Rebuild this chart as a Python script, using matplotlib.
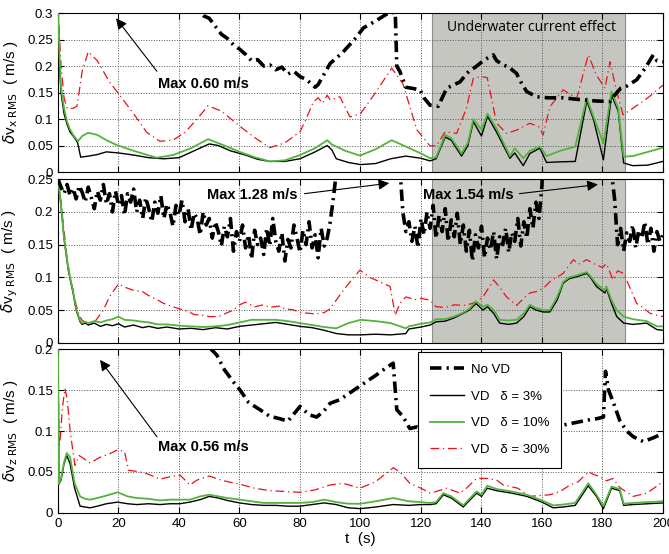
import numpy as np
import matplotlib.pyplot as plt

plt.rcParams['font.family'] = ['Liberation Sans', 'DejaVu Sans']

# ---------------- data ----------------
# panel x (top)
tx_3 = [0, 0.5, 1, 2, 3, 4, 5, 6, 6.5, 7.5, 10, 13, 16, 20, 25, 30, 35, 40, 45, 50,
        53, 57, 62, 66, 70, 75, 80, 85, 89, 90.5, 92, 96, 100, 105, 110, 115, 120, 123, 125, 128,
        130, 133.4, 135.5, 137.3, 140, 142, 145, 149.4, 151, 153.8, 156, 159.3, 161.5, 165, 171, 174.8, 177, 180.3, 183, 185.2,
        187, 190, 195, 200]
vx_3 = [0.3, 0.2, 0.15, 0.11, 0.09, 0.075, 0.068, 0.06, 0.055, 0.028, 0.03, 0.033, 0.038, 0.036, 0.032, 0.027, 0.025, 0.027, 0.04, 0.053,
        0.05, 0.04, 0.032, 0.024, 0.02, 0.02, 0.025, 0.038, 0.05, 0.042, 0.025, 0.018, 0.014, 0.016, 0.025, 0.03, 0.026, 0.021, 0.025, 0.066,
        0.06, 0.03, 0.05, 0.095, 0.068, 0.105, 0.075, 0.026, 0.036, 0.012, 0.035, 0.045, 0.018, 0.019, 0.02, 0.134, 0.1, 0.023, 0.145, 0.115,
        0.017, 0.012, 0.013, 0.02]
tx_10 = [0, 0.5, 1, 2, 3, 4, 5, 6.6, 8, 10, 13, 16, 19.4, 25, 32.6, 38, 44, 49.6, 55, 60,
         65, 70, 75, 80, 85, 89, 90.5, 95, 99.8, 105, 110.3, 115, 120, 123, 125, 128, 130, 133.4, 135.5, 137.3,
         140, 142, 145, 149.4, 151, 153.8, 156, 159.3, 161.5, 166, 171, 174.8, 177, 180.3, 183, 185.2, 187, 190, 195, 200]
vx_10 = [0.31, 0.22, 0.16, 0.12, 0.095, 0.08, 0.07, 0.058, 0.068, 0.074, 0.07, 0.06, 0.051, 0.04, 0.027, 0.032, 0.045, 0.062, 0.05, 0.038,
         0.028, 0.02, 0.022, 0.032, 0.045, 0.06, 0.052, 0.04, 0.031, 0.043, 0.06, 0.048, 0.035, 0.026, 0.028, 0.07, 0.064, 0.035, 0.055, 0.1,
         0.08, 0.11, 0.082, 0.03, 0.045, 0.026, 0.04, 0.048, 0.03, 0.04, 0.048, 0.14, 0.105, 0.054, 0.152, 0.12, 0.029, 0.03, 0.038, 0.046]
tx_30 = [0, 1, 2, 3, 5, 6.3, 8, 10, 13, 17, 20, 25, 29.3, 33.7, 38, 42, 46, 49.6, 54, 60,
         65, 70, 75, 80, 82, 84.4, 86, 87.5, 89, 90, 93.2, 96.5, 100, 105, 110.3, 114, 118.6, 123, 125.2, 128,
         131.8, 135, 137.3, 140, 141.9, 145, 148.3, 151.6, 156, 159, 160.4, 162.6, 167, 171.5, 175.3, 178, 180.8, 182.5, 184.7, 186.8,
         190, 195, 200]
vx_30 = [0.31, 0.2, 0.14, 0.12, 0.12, 0.125, 0.19, 0.227, 0.21, 0.17, 0.148, 0.11, 0.075, 0.058, 0.06, 0.075, 0.1, 0.125, 0.115, 0.087,
         0.065, 0.046, 0.055, 0.076, 0.1, 0.132, 0.14, 0.13, 0.145, 0.136, 0.142, 0.104, 0.11, 0.15, 0.196, 0.167, 0.08, 0.049, 0.05, 0.076,
         0.073, 0.12, 0.177, 0.18, 0.178, 0.092, 0.073, 0.079, 0.092, 0.085, 0.07, 0.123, 0.155, 0.139, 0.221, 0.183, 0.158, 0.208, 0.152, 0.108,
         0.12, 0.14, 0.164]
tx_novd = [0, 10, 20, 30, 40, 46, 48, 50, 52, 54, 56, 58, 60, 62, 64, 66, 68, 70, 72, 74,
           76, 78, 80, 82, 84, 85, 86, 88, 90, 94, 98, 101, 105, 109.8, 111.5, 112, 113, 115, 117, 119.7,
           121, 123, 125.7, 127, 128.5, 131, 132.9, 135, 136.2, 138, 139.5, 142, 143.9, 145, 147.2, 149, 151.6, 153, 154.9, 158.2,
           162, 167, 172, 178, 182.5, 184, 186, 188, 191.3, 194, 196.8, 198, 200]
vx_novd = [0.6, 0.5, 0.45, 0.4, 0.34, 0.305, 0.295, 0.29, 0.275, 0.26, 0.252, 0.24, 0.232, 0.222, 0.21, 0.212, 0.2, 0.202, 0.193, 0.198,
           0.185, 0.19, 0.18, 0.175, 0.165, 0.16, 0.165, 0.185, 0.205, 0.225, 0.25, 0.272, 0.285, 0.302, 0.3, 0.2, 0.19, 0.16, 0.158, 0.155,
           0.14, 0.126, 0.124, 0.14, 0.158, 0.165, 0.17, 0.185, 0.192, 0.198, 0.205, 0.215, 0.221, 0.21, 0.202, 0.198, 0.186, 0.17, 0.152, 0.142,
           0.14, 0.14, 0.137, 0.134, 0.133, 0.145, 0.158, 0.162, 0.174, 0.195, 0.221, 0.21, 0.208]

# panel y (middle)
ty_vd = [0, 1, 2, 3.4, 5, 6, 7.3, 8, 9, 10, 12, 14, 16, 18, 20, 22, 25, 28, 30, 33,
         36, 40, 44, 48, 52, 56, 60, 64, 68, 72, 76, 80, 84, 88, 92, 96, 100, 105, 110, 115,
         116, 120, 123, 125, 128, 131, 134, 136, 138.2, 140.5, 142, 144, 146, 149, 151.6, 154, 156, 158, 160.4, 162.6,
         165, 167, 169, 171.5, 174.8, 176, 178, 180.8, 181.3, 183, 184.7, 187, 190, 194.6, 198, 200]
vy_3 = [0.25, 0.21, 0.16, 0.111, 0.076, 0.05, 0.032, 0.028, 0.03, 0.027, 0.03, 0.025, 0.028, 0.026, 0.029, 0.024, 0.027, 0.023, 0.025, 0.022,
        0.024, 0.021, 0.022, 0.02, 0.023, 0.021, 0.025, 0.027, 0.029, 0.031, 0.028, 0.025, 0.023, 0.019, 0.014, 0.012, 0.012, 0.013, 0.012, 0.014,
        0.021, 0.024, 0.027, 0.032, 0.033, 0.038, 0.045, 0.05, 0.06, 0.05, 0.055, 0.045, 0.03, 0.028, 0.03, 0.04, 0.055, 0.05, 0.047, 0.047,
        0.065, 0.091, 0.098, 0.101, 0.106, 0.1, 0.086, 0.076, 0.083, 0.06, 0.04, 0.03, 0.028, 0.03, 0.02, 0.019]
vy_10 = [0.25, 0.21, 0.16, 0.113, 0.078, 0.052, 0.034, 0.03, 0.032, 0.03, 0.033, 0.031, 0.034, 0.036, 0.04, 0.035, 0.034, 0.032, 0.031, 0.028,
         0.028, 0.026, 0.025, 0.024, 0.025, 0.027, 0.031, 0.035, 0.035, 0.035, 0.033, 0.03, 0.027, 0.024, 0.022, 0.03, 0.035, 0.033, 0.03, 0.022,
         0.025, 0.029, 0.031, 0.036, 0.036, 0.04, 0.046, 0.052, 0.063, 0.055, 0.058, 0.05, 0.035, 0.034, 0.035, 0.045, 0.058, 0.053, 0.05, 0.05,
         0.07, 0.093, 0.1, 0.103, 0.108, 0.102, 0.09, 0.08, 0.086, 0.065, 0.05, 0.04, 0.036, 0.033, 0.025, 0.025]
ty_30 = [0, 1, 2, 3, 4, 5, 6, 7, 8, 10, 12, 15, 17, 20, 22, 25, 28, 30, 33, 35,
         38, 40, 43, 45, 48, 50, 53, 55, 58, 60, 62, 65, 68, 70, 73, 75, 78, 80, 83, 85,
         88, 90, 93.2, 96, 99.8, 103, 106, 109.8, 111.5, 113, 115, 118, 120, 123, 125, 128, 131, 134, 137, 140.5,
         144, 146, 148.3, 151.6, 154, 156, 158, 160.4, 163, 167, 170.4, 172, 174.8, 176, 178, 180, 181.3, 183.5, 185, 187,
         189, 191.3, 193, 195.7, 198, 200]
vy_30 = [0.25, 0.215, 0.17, 0.13, 0.1, 0.08, 0.058, 0.042, 0.034, 0.03, 0.031, 0.05, 0.07, 0.09, 0.085, 0.08, 0.078, 0.072, 0.065, 0.06,
         0.055, 0.052, 0.048, 0.043, 0.042, 0.04, 0.04, 0.044, 0.05, 0.058, 0.062, 0.055, 0.058, 0.054, 0.056, 0.052, 0.05, 0.046, 0.045, 0.044,
         0.046, 0.052, 0.073, 0.09, 0.111, 0.1, 0.094, 0.086, 0.042, 0.06, 0.07, 0.066, 0.068, 0.065, 0.055, 0.054, 0.058, 0.057, 0.06, 0.07,
         0.096, 0.085, 0.07, 0.057, 0.068, 0.076, 0.078, 0.083, 0.095, 0.106, 0.127, 0.12, 0.127, 0.124, 0.119, 0.115, 0.121, 0.096, 0.11, 0.106,
         0.085, 0.06, 0.055, 0.045, 0.042, 0.04]
ty_novd = (list(range(0, 93)) + [95, 100, 105, 109, 112, 113] + list(range(114, 161))
           + [162, 170, 178, 182, 183] + list(range(184, 201)))
vy_novd = [0.25, 0.238, 0.228, 0.242, 0.225, 0.236, 0.22, 0.24, 0.23, 0.215,
           0.238, 0.222, 0.205, 0.232, 0.218, 0.242, 0.212, 0.228, 0.2, 0.232,
           0.21, 0.225, 0.195, 0.228, 0.215, 0.235, 0.2, 0.218, 0.19, 0.222,
           0.205, 0.185, 0.215, 0.198, 0.225, 0.19, 0.212, 0.2, 0.178, 0.21,
           0.195, 0.218, 0.185, 0.205, 0.172, 0.198, 0.19, 0.165, 0.2, 0.18,
           0.19, 0.16, 0.185, 0.17, 0.148, 0.178, 0.162, 0.19, 0.14, 0.17,
           0.155, 0.18, 0.145, 0.165, 0.128, 0.172, 0.15, 0.16, 0.135, 0.175,
           0.148, 0.19, 0.155, 0.14, 0.168, 0.125, 0.158, 0.145, 0.18, 0.16,
           0.138, 0.172, 0.15, 0.185, 0.145, 0.165, 0.13, 0.175, 0.148, 0.16,
           0.185, 0.22, 0.26,
           0.6, 1.0, 1.28, 0.9, 0.4, 0.27,
           0.2, 0.17, 0.185, 0.155, 0.178, 0.145, 0.19, 0.165, 0.2, 0.175,
           0.21, 0.16, 0.195, 0.17, 0.205, 0.155, 0.188, 0.162, 0.198, 0.15,
           0.18, 0.14, 0.172, 0.125, 0.165, 0.145, 0.178, 0.13, 0.16, 0.142,
           0.17, 0.128, 0.162, 0.15, 0.175, 0.138, 0.168, 0.155, 0.19, 0.148,
           0.185, 0.16, 0.205, 0.175, 0.215, 0.19, 0.24,
           0.6, 1.54, 0.8, 0.35, 0.26,
           0.22, 0.15, 0.175, 0.14, 0.168, 0.155, 0.18, 0.145, 0.172, 0.16,
           0.185, 0.15, 0.175, 0.14, 0.17, 0.155, 0.165]

# panel z (bottom)
tz_vd = [0, 0.3, 1, 2, 2.9, 4, 5.5, 7.3, 9, 10.6, 13, 16, 19.7, 23, 26, 30, 33.7, 37, 40.3, 43.6,
         47, 50, 53, 56, 60, 64, 68, 72, 76, 80, 84, 88, 92, 96, 100, 105, 110.8, 116, 120, 123,
         125, 127.4, 130, 134, 136, 138.4, 140, 141.9, 145, 150, 155, 160, 163.7, 167, 171, 175.3, 178, 180.3, 183, 185.7,
         187, 190, 195, 200]
vz_3 = [0.2, 0.035, 0.04, 0.06, 0.07, 0.06, 0.03, 0.008, 0.007, 0.006, 0.008, 0.011, 0.013, 0.011, 0.01, 0.011, 0.01, 0.011, 0.011, 0.013,
        0.016, 0.02, 0.018, 0.015, 0.012, 0.01, 0.009, 0.009, 0.008, 0.008, 0.01, 0.012, 0.01, 0.006, 0.005, 0.007, 0.01, 0.009, 0.01, 0.01,
        0.011, 0.022, 0.018, 0.007, 0.015, 0.024, 0.02, 0.03, 0.027, 0.024, 0.02, 0.013, 0.006, 0.007, 0.009, 0.033, 0.02, 0.005, 0.03, 0.027,
        0.009, 0.01, 0.011, 0.012]
vz_10 = [0.2, 0.035, 0.042, 0.062, 0.073, 0.068, 0.036, 0.02, 0.017, 0.016, 0.018, 0.021, 0.025, 0.02, 0.018, 0.017, 0.015, 0.016, 0.016, 0.016,
         0.02, 0.022, 0.02, 0.018, 0.016, 0.014, 0.012, 0.012, 0.012, 0.012, 0.013, 0.016, 0.013, 0.011, 0.011, 0.014, 0.018, 0.014, 0.013, 0.012,
         0.013, 0.024, 0.02, 0.009, 0.017, 0.026, 0.022, 0.033, 0.029, 0.026, 0.022, 0.015, 0.009, 0.01, 0.012, 0.036, 0.022, 0.008, 0.032, 0.029,
         0.011, 0.012, 0.013, 0.014]
tz_30 = [0, 0.3, 0.7, 1.5, 2.3, 3, 4, 5.6, 7, 10.6, 14, 17, 19.7, 22, 23.3, 27, 30, 33.7, 37, 40.3,
         42, 43.6, 46, 50, 53, 56, 60, 65, 70, 75, 80, 85, 90, 94.3, 99.8, 105, 110.8, 113, 116.3, 120,
         123, 125, 128.5, 132.9, 135, 138.4, 141.9, 145, 147.2, 152, 156, 159, 162.6, 166, 169.3, 172, 175.3, 177, 179.2, 181.3,
         183.5, 185.7, 188, 190.2, 194.6, 197, 200]
vz_30 = [0.2, 0.08, 0.09, 0.13, 0.152, 0.14, 0.1, 0.058, 0.07, 0.061, 0.068, 0.072, 0.077, 0.075, 0.052, 0.05, 0.047, 0.041, 0.044, 0.046,
         0.04, 0.034, 0.04, 0.045, 0.041, 0.038, 0.035, 0.03, 0.027, 0.026, 0.025, 0.028, 0.034, 0.036, 0.03, 0.038, 0.055, 0.05, 0.036, 0.03,
         0.024, 0.026, 0.03, 0.024, 0.03, 0.042, 0.042, 0.04, 0.034, 0.03, 0.02, 0.021, 0.022, 0.026, 0.034, 0.038, 0.05, 0.047, 0.044, 0.039,
         0.042, 0.031, 0.025, 0.02, 0.024, 0.03, 0.038]
tz_novd = [0, 10, 20, 30, 40, 48, 52.5, 55, 58, 60.2, 63, 66.8, 70, 73.4, 76, 80, 83, 85.5, 88, 90,
           93, 97, 101, 105, 108, 110.8, 112, 114, 116.3, 118.6, 122, 130, 140, 150, 160, 164, 168, 172, 176, 178,
           180.3, 181, 182, 183.5, 185.7, 188, 190.2, 193.5, 197, 200]
vz_novd = [0.56, 0.45, 0.38, 0.3, 0.25, 0.21, 0.193, 0.175, 0.16, 0.15, 0.135, 0.126, 0.118, 0.115, 0.112, 0.13, 0.12, 0.117, 0.125, 0.134,
           0.138, 0.148, 0.158, 0.168, 0.176, 0.183, 0.126, 0.118, 0.103, 0.105, 0.1, 0.101, 0.102, 0.103, 0.104, 0.105, 0.108, 0.111, 0.114, 0.115,
           0.117, 0.173, 0.15, 0.136, 0.113, 0.1, 0.093, 0.087, 0.092, 0.097]

ylims = [0.3, 0.25, 0.2]
ylabels = [r'$\delta$v$_{\mathrm{x\ RMS}}$  ( m/s )',
           r'$\delta$v$_{\mathrm{y\ RMS}}$  ( m/s )',
           r'$\delta$v$_{\mathrm{z\ RMS}}$  ( m/s )']
legend_labels = ['No VD', 'VD   \u03b4 = 3%', 'VD   \u03b4 = 10%', 'VD   \u03b4 = 30%']
shade_span = (123.6, 187.3)

green = '#52b43c'
red = '#e8121a'

fig = plt.figure(figsize=(6.69, 5.54), dpi=100)
pos = [[0.0867, 0.6895, 0.9043, 0.287],
       [0.0867, 0.3814, 0.9043, 0.295],
       [0.0867, 0.0745, 0.9043, 0.295]]
axs = [fig.add_axes(p) for p in pos]

panels = [
    (tx_novd, vx_novd, tx_3, vx_3, tx_10, vx_10, tx_30, vx_30),
    (ty_novd, vy_novd, ty_vd, vy_3, ty_vd, vy_10, ty_30, vy_30),
    (tz_novd, vz_novd, tz_vd, vz_3, tz_vd, vz_10, tz_30, vz_30),
]

for i, ax in enumerate(axs):
    tn, vn, t3, v3, t10, v10, t30, v30 = panels[i]
    l0, = ax.plot(tn, vn, color='black', lw=2.6, dashes=(3.2, 1.4, 0.6, 1.4), zorder=5)
    l1, = ax.plot(t3, v3, color='black', lw=1.0, zorder=4)
    l2, = ax.plot(t10, v10, color=green, lw=1.3, zorder=4)
    l3, = ax.plot(t30, v30, color=red, lw=0.9, dashes=(7, 3, 1, 3), zorder=3)

    # shaded "underwater current" window on x and y panels
    if i < 2:
        ax.axvspan(shade_span[0], shade_span[1], facecolor='#c6c6c1', edgecolor='#8c8c8c', lw=0.8, zorder=0.3)

    ax.set_xlim(0, 200)
    ax.set_ylim(0, ylims[i])
    ax.set_xticks(np.arange(0, 201, 20))
    yt = np.arange(0, ylims[i] + 0.001, 0.05)
    ax.set_yticks(yt)
    ax.set_yticklabels(['0' if v == 0 else ('%g' % round(v, 2)) for v in yt])
    ax.set_axisbelow(True)
    ax.grid(True, ls=':', color='#555555', lw=0.7)
    ax.tick_params(direction='in', top=True, right=True, length=4, labelsize=9.5, width=0.8)
    for s in ax.spines.values():
        s.set_linewidth(0.8)
    ax.set_ylabel(ylabels[i], fontsize=11)
    ax.yaxis.set_label_coords(-0.062, 0.5)
    if i < 2:
        ax.tick_params(labelbottom=False)

axs[2].set_xlabel('t  (s)', fontsize=11, labelpad=2)

# annotations
ann = dict(fontsize=10.5, fontweight='bold', va='center', ha='left')
arr = dict(arrowstyle='-|>', color='black', lw=0.8, mutation_scale=16, shrinkA=0, shrinkB=0)
axs[0].annotate('', xy=(19.2, 0.29), xytext=(32.7, 0.19), arrowprops=arr, zorder=6)
axs[0].text(33, 0.167, 'Max 0.60 m/s', **ann, zorder=6)
axs[0].text(128.5, 0.272, 'Underwater current effect', fontsize=10, family=['Open Sans', 'DejaVu Sans'],
            va='center', ha='left', zorder=6)

axs[1].annotate('', xy=(109.5, 0.244), xytext=(81.5, 0.228), arrowprops=arr, zorder=6)
axs[1].text(49.3, 0.226, 'Max 1.28 m/s', **ann, zorder=6)
axs[1].annotate('', xy=(178.5, 0.242), xytext=(152.5, 0.228), arrowprops=arr, zorder=6)
axs[1].text(120.6, 0.226, 'Max 1.54 m/s', **ann, zorder=6)

axs[2].annotate('', xy=(13.9, 0.187), xytext=(32.7, 0.093), arrowprops=arr, zorder=6)
axs[2].text(33, 0.08, 'Max 0.56 m/s', **ann, zorder=6)

leg = axs[2].legend([l0, l1, l2, l3], legend_labels, loc='upper left', bbox_to_anchor=(0.595, 0.985),
                    fontsize=9.5, handlelength=2.6, labelspacing=1.1, borderpad=0.9, handletextpad=0.5,
                    borderaxespad=0, fancybox=False, framealpha=1, edgecolor='black')
leg.get_frame().set_linewidth(0.8)
leg.set_zorder(10)

fig.savefig('out.png', dpi=100)
